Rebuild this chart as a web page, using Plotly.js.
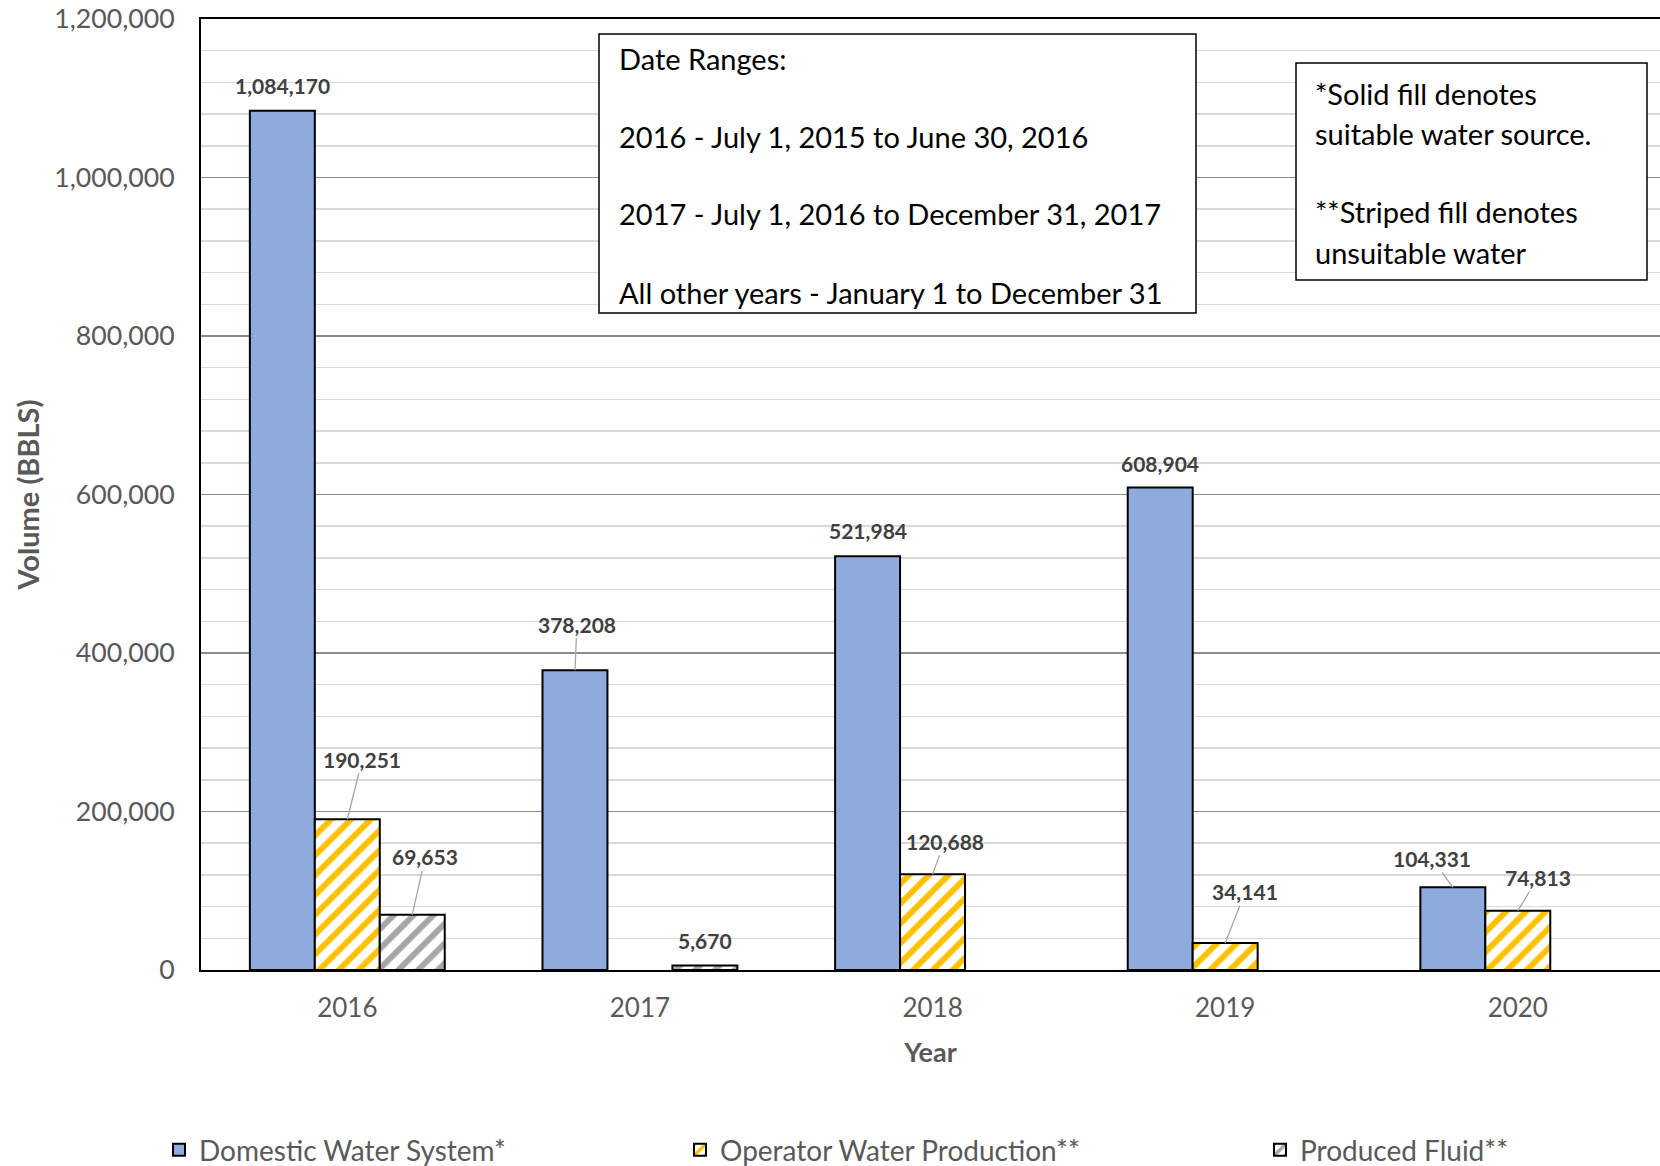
<!DOCTYPE html>
<html>
<head>
<meta charset="utf-8">
<script src="https://cdn.plot.ly/plotly-3.0.1.min.js"></script>
<style>
  html, body { margin: 0; padding: 0; background: #ffffff; overflow: hidden; }
  #chart { width: 1660px; height: 1166px; }
</style>
</head>
<body>
<div id="chart"></div>
<script>
// Water volumes by year and source
const years = ['2016', '2017', '2018', '2019', '2020'];
const domesticWater = [1084170, 378208, 521984, 608904, 104331];
const operatorWater = [190251, null, 120688, 34141, 74813];
const producedFluid = [69653, 5670, null, null, null];

const seriesNames = ['Domestic Water System*', 'Operator Water Production**', 'Produced Fluid**'];

const dateRangeLines = [
  'Date Ranges:',
  '2016 - July 1, 2015 to June 30, 2016',
  '2017 - July 1, 2016 to December 31, 2017',
  'All other years - January 1 to December 31'
];
const fillNoteLines = [
  '*Solid fill denotes',
  'suitable water source.',
  '**Striped fill denotes',
  'unsuitable water'
];

// Plot frame in page pixels
const W = 1660, H = 1166;
const PL = 201, PR = 1660, PT = 19, PB = 970;
const px = p => (p - PL) / (PR - PL);
const py = p => (PB - p) / (PB - PT);

const FONT = 'Lato, "Open Sans", "DejaVu Sans", sans-serif';
const GREY_TEXT = '#595959';

const BARGAP = 0.334;
const slot = (1 - BARGAP) / 3;   // width of one bar in category units

const outline = { color: '#000000', width: 2 };
const stripes = color => ({
  shape: '/', fgcolor: color, fgopacity: 1, bgcolor: '#FFFFFF',
  size: 14, solidity: 0.42, fillmode: 'overlay'
});

const traces = [
  {
    type: 'bar', name: seriesNames[0], x: years, y: domesticWater,
    marker: { color: '#8FAADC', line: outline },
    legend: 'legend', hoverinfo: 'x+y'
  },
  {
    type: 'bar', name: seriesNames[1], x: years, y: operatorWater,
    marker: { color: '#FFFFFF', line: outline, pattern: stripes('#FFC000') },
    legend: 'legend2', hoverinfo: 'x+y'
  },
  {
    type: 'bar', name: seriesNames[2], x: years, y: producedFluid,
    marker: { color: '#FFFFFF', line: outline, pattern: stripes('#A6A6A6') },
    legend: 'legend3', hoverinfo: 'x+y'
  }
];

// Label offsets (pixels from the top of each bar); arrow = leader line drawn
const labelOffsets = [
  [ {ax: 0, ay: -25, arrow: false}, {ax: 2, ay: -46, arrow: true}, {ax: 0, ay: -26, arrow: false}, {ax: 0, ay: -24, arrow: false}, {ax: -21, ay: -29, arrow: true} ],
  [ {ax: 15, ay: -60, arrow: true}, null, {ax: 12, ay: -33, arrow: true}, {ax: 20, ay: -51, arrow: true}, {ax: 20, ay: -33, arrow: true} ],
  [ {ax: 13, ay: -58, arrow: true}, {ax: 0, ay: -25, arrow: false}, null, null, null ]
];

const fmt = v => v.toLocaleString('en-US');
const annotations = [];
[domesticWater, operatorWater, producedFluid].forEach((series, s) => {
  series.forEach((v, i) => {
    if (v === null || v === undefined) return;
    const off = labelOffsets[s][i];
    const xpos = i + (s - 1) * slot;
    const common = {
      x: xpos, y: v, xref: 'x', yref: 'y', text: fmt(v),
      font: { family: FONT, size: 21, color: '#404040', weight: 'bold' }
    };
    if (off.arrow) {
      annotations.push(Object.assign(common, {
        showarrow: true, ax: off.ax, ay: off.ay, axref: 'pixel', ayref: 'pixel',
        arrowhead: 0, arrowwidth: 1.3, arrowcolor: '#A6A6A6', standoff: 0
      }));
    } else {
      annotations.push(Object.assign(common, {
        showarrow: false, xshift: off.ax, yshift: -off.ay
      }));
    }
  });
});

// Note boxes
function addLines(lines, left, centers, size) {
  lines.forEach((t, k) => {
    annotations.push({
      xref: 'paper', yref: 'paper', x: px(left), y: py(centers[k]),
      xanchor: 'left', yanchor: 'middle', showarrow: false, text: t,
      font: { family: FONT, size: size, color: '#000000' }
    });
  });
}
addLines(dateRangeLines, 617, [59, 136, 214, 292], 29);
addLines(fillNoteLines, 1313, [94, 133, 212, 252], 29);

const shapes = [
  { type: 'rect', xref: 'paper', yref: 'paper', x0: px(599), x1: px(1196), y0: py(313), y1: py(34),
    fillcolor: '#FFFFFF', line: { color: '#000000', width: 1.5 }, layer: 'above' },
  { type: 'rect', xref: 'paper', yref: 'paper', x0: px(1296), x1: px(1647), y0: py(280), y1: py(63),
    fillcolor: '#FFFFFF', line: { color: '#000000', width: 1.5 }, layer: 'above' }
];

const legendBase = {
  visible: true, orientation: 'h', yref: 'container', xref: 'container',
  yanchor: 'middle', xanchor: 'left', y: 1 - 1150 / H,
  font: { family: FONT, size: 28, color: GREY_TEXT }, bgcolor: 'rgba(0,0,0,0)', borderwidth: 0
};

const layout = {
  width: W, height: H,
  margin: { l: PL, r: W - PR, t: PT, b: H - PB, pad: 0 },
  paper_bgcolor: '#FFFFFF', plot_bgcolor: '#FFFFFF',
  barmode: 'group', bargap: BARGAP, bargroupgap: 0,
  showlegend: true,
  font: { family: FONT, color: GREY_TEXT },
  xaxis: {
    type: 'category', range: [-0.5, 4.486],
    showline: true, linecolor: '#000000', linewidth: 2, mirror: true,
    showgrid: false, ticks: '', ticklabelstandoff: 14,
    tickfont: { family: FONT, size: 26, color: GREY_TEXT },
    title: { text: 'Year', font: { family: FONT, size: 27, color: GREY_TEXT, weight: 'bold' }, standoff: 21 }
  },
  yaxis: {
    range: [0, 1200000], dtick: 200000, tick0: 0, tickformat: ',d',
    showline: true, linecolor: '#000000', linewidth: 2,
    showgrid: true, gridcolor: '#8C8C8C', gridwidth: 1.5, zeroline: false,
    minor: { dtick: 40000, showgrid: true, gridcolor: '#D9D9D9', gridwidth: 1.5, ticks: '' },
    ticks: '', ticklabelstandoff: 19,
    tickfont: { family: FONT, size: 26.7, color: GREY_TEXT },
    title: { text: 'Volume (BBLS)', font: { family: FONT, size: 29, color: GREY_TEXT, weight: 'bold' }, standoff: 6 }
  },
  legend: Object.assign({}, legendBase, { x: 159 / W }),
  legend2: Object.assign({}, legendBase, { x: 680 / W }),
  legend3: Object.assign({}, legendBase, { x: 1260 / W }),
  annotations: annotations,
  shapes: shapes
};

Plotly.newPlot('chart', traces, layout, { staticPlot: true, displayModeBar: false });
</script>
</body>
</html>
